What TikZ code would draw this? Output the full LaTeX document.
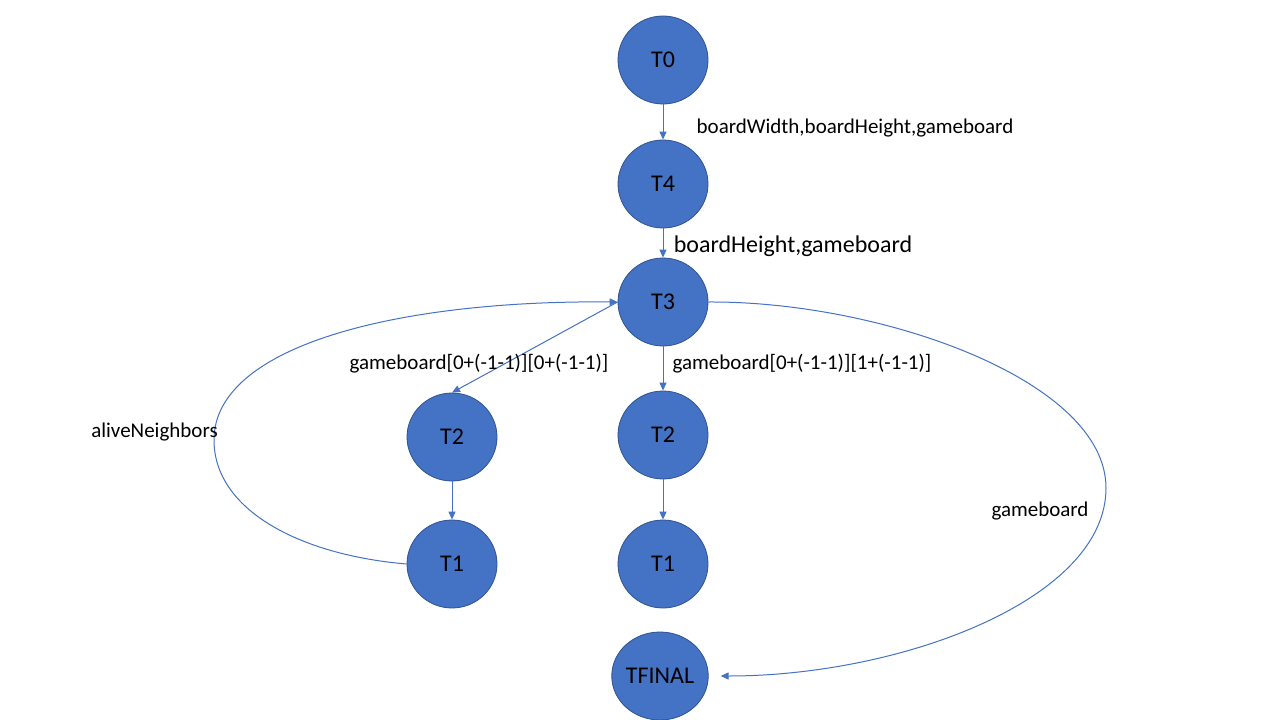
\documentclass[tikz,border=0pt]{standalone}
\usepackage{fontspec}
\setmainfont{Carlito}
\usetikzlibrary{shapes.geometric,arrows.meta}
\definecolor{nodefill}{HTML}{4472C4}
\definecolor{nodeline}{HTML}{2F528F}
\definecolor{edgecol}{HTML}{4472C4}
\begin{document}
\begin{tikzpicture}[x=1pt,y=-1pt,
  task/.style={ellipse,draw=nodeline,line width=0.8pt,fill=nodefill,minimum width=90pt,minimum height=88pt,inner sep=0pt,font=\fontsize{24}{28}\selectfont,text=black},
  edge/.style={draw=edgecol,line width=1pt,-{Triangle[length=8pt,width=7pt]}},
  lbl/.style={anchor=base,inner sep=0pt,font=\fontsize{21}{25}\selectfont,text=black},
  lblbig/.style={anchor=base,inner sep=0pt,font=\fontsize{24}{28}\selectfont,text=black}]
\useasboundingbox[fill=white] (0,0) rectangle (1280,720);
\node[task] (T0) at (663,60) {T0};
\node[task] (T4) at (663,184) {T4};
\node[task] (T3) at (663,302) {T3};
\node[task] (T2L) at (452,437) {T2};
\node[task] (T2R) at (663,435) {T2};
\node[task] (T1L) at (452,564) {T1};
\node[task] (T1R) at (663,564) {T1};
\node[task] (TF) at (660,676) {TFINAL};
\coordinate (Lp) at (214,440);
\coordinate (Rp) at (1106,488);
\draw[edge] (T0) -- (T4);
\draw[edge] (T4) -- (T3);
\draw[edge] (T3.west) -- (T2L.north);
\draw[edge] (T3) -- (T2R);
\draw[edge] (T2L) -- (T1L);
\draw[edge] (T2R) -- (T1R);
\draw[edge] (T1L.west) .. controls (300,555) and (214,510) .. (Lp) .. controls (214,345) and (400,300) .. (T3.west);
\draw[edge,shorten >=12pt] (T3.east) .. controls (880,301) and (1106,380) .. (Rp) .. controls (1106,600) and (900,676) .. (TF.east);
\node[lbl] (l1) at (855,133) {boardWidth,boardHeight,gameboard};
\node[lblbig] (l2) at (793,252) {boardHeight,gameboard};
\node[lbl] (l3) at (479,369) {gameboard[0+(-1-1)][0+(-1-1)]};
\node[lbl] (l4) at (802,369) {gameboard[0+(-1-1)][1+(-1-1)]};
\node[lbl] (l5) at (154.5,437) {aliveNeighbors};
\node[lbl] (l6) at (1040,516) {gameboard};
\end{tikzpicture}
\end{document}
